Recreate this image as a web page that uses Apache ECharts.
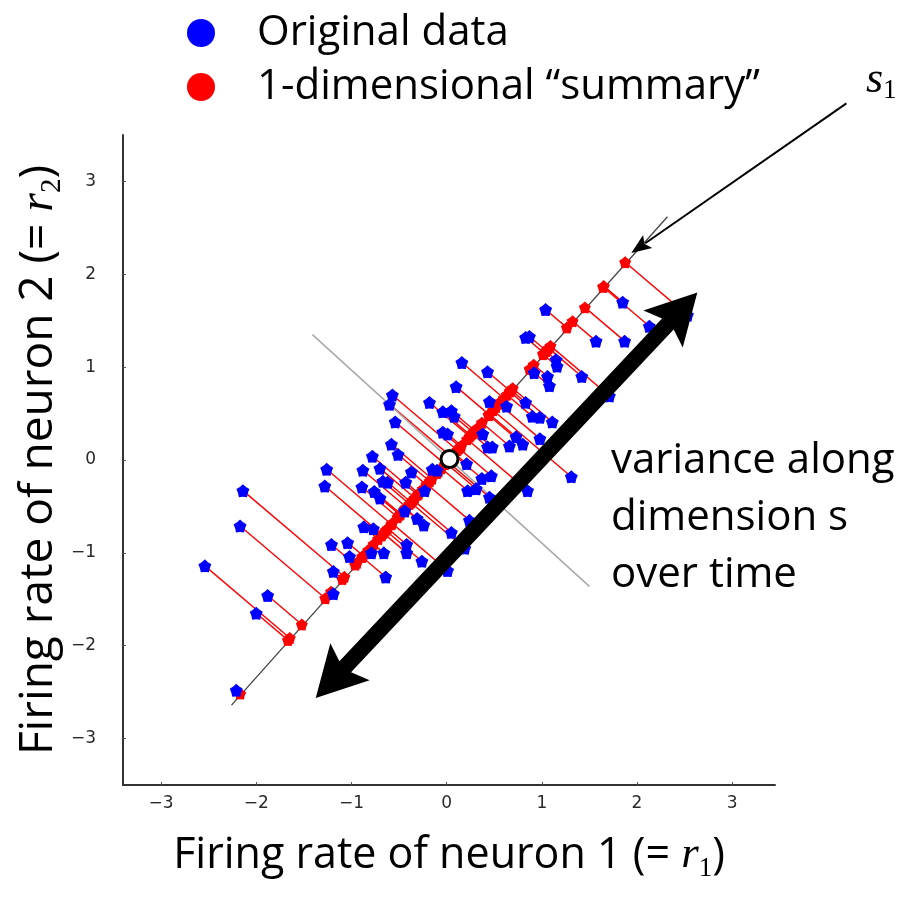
<!DOCTYPE html>
<html><head><meta charset="utf-8">
<script src="https://cdn.jsdelivr.net/npm/echarts@6/dist/echarts.min.js"></script>
<style>html,body{margin:0;padding:0;background:#fff}#c{width:905px;height:899px}</style>
</head><body><div id="c"></div>
<script>
const seriesNames = ['Original data', '1-dimensional “summary”'];
const blueX = [-2.14,-2.17,-2.54,-1.88,-2.00,-2.21,-1.26,-1.28,-1.21,-1.04,-1.02,-1.19,-1.19,
  -0.88,-0.70,-0.78,-0.58,-0.51,-0.89,-0.76,-0.70,-0.67,-0.62,-0.43,-0.37,-0.15,-0.10,-0.23,-0.44,-0.31,-0.24,-0.87,-0.77,-0.79,-0.66,-0.42,-0.42,-0.26,-0.64,0.05,0.01,
  -0.57,-0.60,-0.18,0.10,-0.04,0.05,0.08,-0.54,-0.04,0.01,
  0.16,0.43,0.45,0.63,0.83,0.90,0.98,1.11,0.38,0.73,0.80,0.66,0.98,0.43,0.48,0.83,0.87,1.15,1.16,0.92,1.06,1.08,1.42,1.57,1.87,1.04,1.85,2.13,1.71,
  0.21,0.37,0.47,0.31,0.22,0.85,1.31,0.45,0.24,0.19,2.53];
const blueY = [-0.33,-0.71,-1.14,-1.46,-1.65,-2.48,-0.10,-0.28,-0.91,-0.89,-1.04,-1.20,-1.44,
  -0.11,-0.09,0.04,0.17,0.06,-0.29,-0.34,-0.41,-0.23,-0.24,-0.24,-0.13,-0.10,-0.11,-0.33,-0.55,-0.63,-0.70,-0.72,-0.74,-1.00,-1.00,-0.91,-1.00,-1.09,-1.26,-0.78,-1.19,
  0.70,0.60,0.62,0.79,0.52,0.53,0.47,0.41,0.30,0.28,
  1.05,0.95,0.63,0.58,0.62,0.47,0.46,0.41,0.28,0.25,0.17,0.15,0.23,0.14,0.14,1.32,1.33,1.08,1.01,0.94,0.90,0.80,0.90,1.28,1.28,1.62,1.70,1.44,0.69,
  -0.04,-0.20,-0.17,-0.31,-0.33,-0.33,-0.18,-0.40,-0.65,-0.95,1.56];
const meanPoint = [0.03, 0.01];
const summaryAxisX = [-2.26, 2.32];
const summaryAxisY = [-2.64, 2.62];
const orthoAxisX = [-1.41, 1.50];
const orthoAxisY = [1.35, -1.36];
const xTicks = [-3, -2, -1, 0, 1, 2, 3];
const yTicks = [-3, -2, -1, 0, 1, 2, 3];
const varianceArrow = [-1.375, -2.564, 2.634, 1.803];
const s1Arrow = [4.20, 3.84, 1.94, 2.23];

// projection of each original point onto the summary axis
const ux0 = summaryAxisX[1] - summaryAxisX[0], uy0 = summaryAxisY[1] - summaryAxisY[0];
const uL = Math.hypot(ux0, uy0), ux = ux0 / uL, uy = uy0 / uL;
const blueData = [], redData = [], linkData = [];
for (let i = 0; i < blueX.length; i++) {
  const t = (blueX[i] - meanPoint[0]) * ux + (blueY[i] - meanPoint[1]) * uy;
  const rx = meanPoint[0] + t * ux, ry = meanPoint[1] + t * uy;
  blueData.push([blueX[i], blueY[i]]);
  redData.push([rx, ry]);
  linkData.push({ coords: [[blueX[i], blueY[i]], [rx, ry]] });
}

const blob = 'path://M50 0 L72.34 19.26 L97.55 34.55 L86.14 61.74 L79.39 90.45 L50 88 L20.61 90.45 L13.86 61.74 L2.45 34.55 L27.66 19.26 Z';
const textFont = 'Open Sans';
const minusFmt = v => (v < 0 ? '\u2212' : '') + Math.abs(v);
const axisName = (size) => ({
  fontFamily: textFont, fontSize: size, color: '#000', lineHeight: size + 10,
  rich: {
    i: { fontFamily: 'Liberation Serif', fontStyle: 'italic', fontSize: size + 2, color: '#000', lineHeight: size + 10 },
    sub: { fontFamily: 'Liberation Serif', fontSize: Math.round(size * 0.62), color: '#000', lineHeight: Math.round(size * 0.62), verticalAlign: 'bottom' }
  }
});
const tickLabel = { fontFamily: 'DejaVu Sans', fontSize: 17, color: '#2a2a2a' };

const chart = echarts.init(document.getElementById('c'), null, { renderer: 'canvas' });
chart.setOption({
  backgroundColor: '#fff',
  animation: false,
  grid: { left: 123, right: 130, top: 135, bottom: 114, containLabel: false, outerBoundsMode: 'none' },
  legend: {
    orient: 'vertical', left: 182, top: 6, icon: 'circle', itemWidth: 28, itemHeight: 28, itemGap: 10,
    selectedMode: false, data: seriesNames,
    textStyle: { fontFamily: textFont, fontSize: 42, color: '#000', lineHeight: 44, padding: [0, 0, 0, 37] }
  },
  xAxis: {
    type: 'value', min: -3.4, max: 3.45,
    axisLine: { onZero: false, lineStyle: { color: '#333', width: 2 } },
    axisTick: { show: true, inside: true, length: 3, customValues: xTicks, lineStyle: { color: '#555' } },
    axisLabel: Object.assign({ customValues: xTicks, formatter: minusFmt, margin: 10 }, tickLabel),
    splitLine: { show: false },
    name: 'Firing rate of neuron 1 (= {i|r}{sub|1})', nameLocation: 'middle', nameGap: 44,
    nameTextStyle: axisName(43)
  },
  yAxis: {
    type: 'value', min: -3.5, max: 3.5,
    axisLine: { onZero: false, lineStyle: { color: '#333', width: 2 } },
    axisTick: { show: true, inside: true, length: 3, customValues: yTicks, lineStyle: { color: '#555' } },
    axisLabel: Object.assign({ customValues: yTicks, formatter: minusFmt, margin: 27 }, tickLabel),
    splitLine: { show: false },
    name: 'Firing rate of neuron 2 (= {i|r}{sub|2})', nameLocation: 'middle', nameGap: 56, nameRotate: 90,
    nameMoveOverlap: false,
    nameTextStyle: axisName(46)
  },
  graphic: [
    { type: 'text', left: 611, top: 433, z: 100,
      style: { text: 'variance along\ndimension s\nover time', fontFamily: textFont, fontSize: 42, lineHeight: 57, fill: '#000' } },
    { type: 'text', left: 866, top: 58, z: 100,
      style: { text: '{s|s}{sub|1}', rich: {
        s: { fontFamily: 'Liberation Serif', fontStyle: 'italic', fontSize: 44, fill: '#000', lineHeight: 48 },
        sub: { fontFamily: 'Liberation Serif', fontSize: 27, fill: '#000', lineHeight: 27, verticalAlign: 'bottom' } } } }
  ],
  series: [
    { type: 'lines', coordinateSystem: 'cartesian2d', z: 2, silent: true,
      lineStyle: { color: '#ff0000', width: 1.4, opacity: 1 }, data: linkData },
    { type: 'line', z: 3, showSymbol: false, silent: true, lineStyle: { color: '#444', width: 1.3 },
      data: [[summaryAxisX[0], summaryAxisY[0]], [summaryAxisX[1], summaryAxisY[1]]] },
    { type: 'line', z: 3, showSymbol: false, silent: true, lineStyle: { color: '#aaa', width: 1.6 },
      data: [[orthoAxisX[0], orthoAxisY[0]], [orthoAxisX[1], orthoAxisY[1]]] },
    { name: seriesNames[1], type: 'scatter', z: 4, symbol: blob, symbolSize: 12,
      itemStyle: { color: '#ff0000', opacity: 1 }, data: redData },
    { name: seriesNames[0], type: 'scatter', z: 5, symbol: blob, symbolSize: 13,
      itemStyle: { color: '#0000ff', opacity: 1 }, data: blueData },
    { type: 'scatter', z: 6, symbol: 'circle', symbolSize: 17, silent: true,
      itemStyle: { color: '#fff', borderColor: '#000', borderWidth: 3, opacity: 1 }, data: [meanPoint] },
    { type: 'custom', z: 10, clip: false, silent: true, data: [varianceArrow],
      renderItem: function (params, api) {
        const p1 = api.coord([api.value(0), api.value(1)]);
        const p2 = api.coord([api.value(2), api.value(3)]);
        const dx = p2[0] - p1[0], dy = p2[1] - p1[1], L = Math.hypot(dx, dy);
        const d = [dx / L, dy / L], n = [-d[1], d[0]];
        const H = 50, W = 27, hw = 8, notch = 7;
        const P = (s, w) => [p1[0] + d[0] * s + n[0] * w, p1[1] + d[1] * s + n[1] * w];
        return { type: 'polygon', shape: { points: [P(0, 0), P(H, W), P(H - notch, hw), P(L - H + notch, hw), P(L - H, W), P(L, 0), P(L - H, -W), P(L - H + notch, -hw), P(H - notch, -hw), P(H, -W)] }, style: { fill: '#000' } };
      } },
    { type: 'custom', z: 10, clip: false, silent: true, data: [s1Arrow],
      renderItem: function (params, api) {
        const p1 = api.coord([api.value(0), api.value(1)]);
        const p2 = api.coord([api.value(2), api.value(3)]);
        const dx = p2[0] - p1[0], dy = p2[1] - p1[1], L = Math.hypot(dx, dy);
        const d = [dx / L, dy / L], n = [-d[1], d[0]];
        const H = 20, W = 8;
        const P = (s, w) => [p1[0] + d[0] * s + n[0] * w, p1[1] + d[1] * s + n[1] * w];
        const b = P(L - H + 3, 0);
        return { type: 'group', children: [
          { type: 'line', shape: { x1: p1[0], y1: p1[1], x2: b[0], y2: b[1] }, style: { stroke: '#000', lineWidth: 2 } },
          { type: 'polygon', shape: { points: [P(L, 0), P(L - H, W), P(L - H + 4, 0), P(L - H, -W)] }, style: { fill: '#000' } }
        ] };
      } }
  ]
});
</script></body></html>
